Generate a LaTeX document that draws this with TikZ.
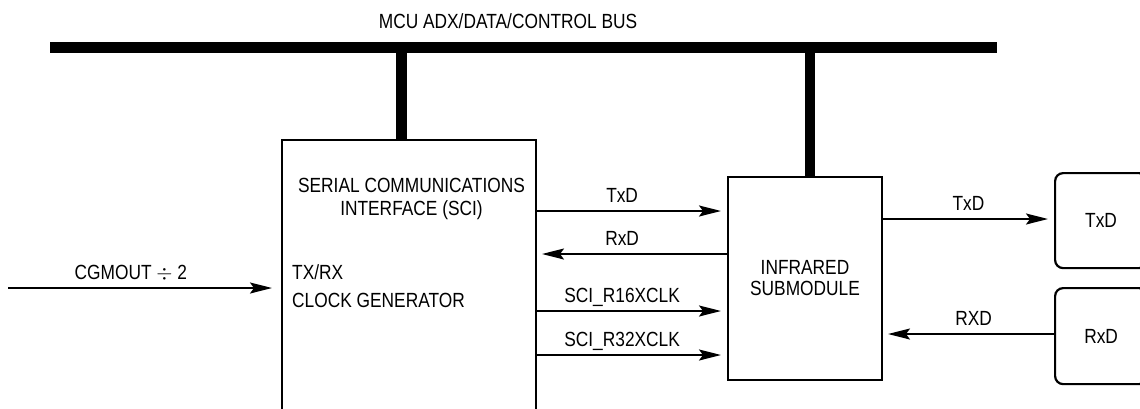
\documentclass[tikz,border=0pt]{standalone}
\usepackage{fontspec}
\setmainfont[FakeStretch=0.845]{Liberation Sans}
\usetikzlibrary{arrows.meta,calc}
\begin{document}
\begin{tikzpicture}[x=1pt,y=-1pt,
  font=\fontsize{20.5}{21}\selectfont,
  blk/.style={draw, line width=2pt, inner sep=0pt, anchor=north west},
  rblk/.style={blk, rounded corners=8pt, line width=2.2pt},
  busline/.style={line width=10.5pt},
  stub/.style={line width=10.5pt},
  sig/.style={line width=2pt, -{Stealth[length=22pt,width=11pt,inset=4pt]}},
  lab/.style={anchor=base, yshift=9pt, inner sep=0pt},
  txt/.style={anchor=base, inner sep=0pt},
  ]
\clip (0,0) rectangle (1140,408);
\fill[white] (0,0) rectangle (1140,408);

% bus
\coordinate (busL) at (50,47.5);
\coordinate (busR) at (997,47.5);
\draw[busline] (busL) -- (busR);
\node[txt] (buslab) at (508,28.5) {MCU ADX/DATA/CONTROL BUS};

% blocks
\node[blk, minimum width=254pt, minimum height=300pt] (sci) at (281,139) {};
\node[blk, minimum width=154pt, minimum height=203pt, align=center] (ir) at (727,176) {INFRARED\\SUBMODULE};
\node[rblk, minimum width=92pt, minimum height=95pt] (txb) at (1054,172) {TxD};
\node[rblk, minimum width=92pt, minimum height=96pt] (rxb) at (1054,287) {RxD};

% SCI texts
\node[txt] (sci1) at (411.5,192) {SERIAL COMMUNICATIONS};
\node[txt] (sci2) at (411.5,215) {INTERFACE (SCI)};
\node[txt, anchor=base west] (sci3) at (292,279) {TX/RX};
\node[txt, anchor=base west] (sci4) at (292,307) {CLOCK GENERATOR};

% stubs
\coordinate (s1) at (401.5,47);
\coordinate (s2) at (810,47);
\draw[stub] (s1) -- (s1 |- sci.north);
\draw[stub] (s2) -- (s2 |- ir.north);

% input clock
\coordinate (cg) at (8,288);
\draw[sig, shorten >=9pt] (cg) -- (cg -| sci.west) node[lab, pos=0.45] {CGMOUT $\div$ 2};

% SCI <-> IR
\draw[sig, shorten >=6pt] (sci.east |- 0,211) -- (ir.west |- 0,211) node[lab, pos=0.448] {TxD};
\draw[sig, shorten >=5pt] (ir.west |- 0,254) -- (sci.east |- 0,254) node[lab, pos=0.552] {RxD};
\draw[sig, shorten >=6pt] (sci.east |- 0,311) -- (ir.west |- 0,311) node[lab, pos=0.448] {SCI\_R16XCLK};
\draw[sig, shorten >=6pt] (sci.east |- 0,355) -- (ir.west |- 0,355) node[lab, pos=0.448] {SCI\_R32XCLK};

% IR <-> external
\draw[sig, shorten >=6pt] (ir.east |- 0,219) -- (txb.west |- 0,219) node[lab, pos=0.5] {TxD};
\draw[sig, shorten >=5pt] (rxb.west |- 0,334) -- (ir.east |- 0,334) node[lab, pos=0.47] {RXD};
\end{tikzpicture}
\end{document}
